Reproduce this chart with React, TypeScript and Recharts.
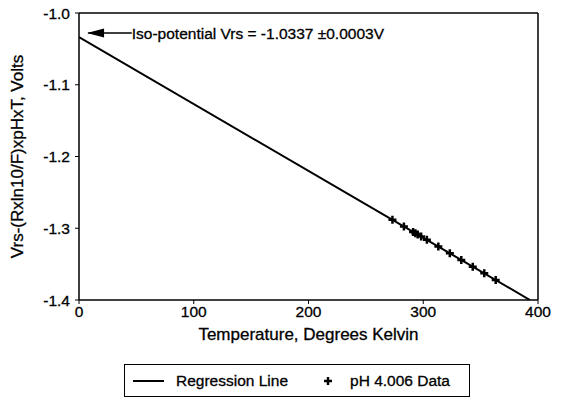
import { ComposedChart, Line, Scatter, XAxis, YAxis, ReferenceLine, ReferenceDot, Legend } from 'recharts'

// regression line end points (Kelvin, volts)
const lineT = [0, 393]
const lineV = [-1.0337, -1.4]

// pH 4.006 measurements
const dataT = [273.15, 283.15, 291.15, 293.15, 295.15, 298.15, 303.15, 313.15, 323.15, 333.15, 343.15, 353.15, 363.15]
const dataV = [-1.2883, -1.2976, -1.3051, -1.3069, -1.3088, -1.3116, -1.3162, -1.3256, -1.3349, -1.3442, -1.3535, -1.3628, -1.3722]

const xTicks = [0, 100, 200, 300, 400]
const yTicks = [-1.4, -1.3, -1.2, -1.1, -1.0]

const FONT = '"Liberation Sans", Arial, sans-serif'

const regression = lineT.map((t, i) => ({ t, v: lineV[i] }))
const points = dataT.map((t, i) => ({ t, v: dataV[i] }))

function Plus(props: any) {
  const { cx, cy } = props
  if (cx == null || cy == null) return null
  return <path d={`M${cx - 4},${cy}H${cx + 4}M${cx},${cy - 4}V${cy + 4}`} stroke="#000" strokeWidth={2.5} />
}

function ArrowHead(props: any) {
  const { cx, cy } = props
  if (cx == null || cy == null) return null
  return <path d={`M${cx},${cy}L${cx + 17},${cy - 4.5}L${cx + 17},${cy + 4.5}Z`} fill="#000" />
}

function LegendBox() {
  return (
    <div style={{
      border: '1.5px solid #000', height: 33, width: 346, boxSizing: 'border-box',
      display: 'flex', alignItems: 'center', fontFamily: FONT, fontSize: 15.5, color: '#000',
      WebkitTextStroke: '0.3px #000',
    }}>
      <svg width={40} height={10} style={{ marginLeft: 8 }}>
        <line x1={0} y1={5} x2={31} y2={5} stroke="#000" strokeWidth={2} />
      </svg>
      <span style={{ marginLeft: 3 }}>Regression Line</span>
      <svg width={16} height={12} style={{ marginLeft: 32 }}>
        <path d="M4,6H12M8,2V10" stroke="#000" strokeWidth={2.5} />
      </svg>
      <span style={{ marginLeft: 14 }}>pH 4.006 Data</span>
    </div>
  )
}

function YLabel(props: any) {
  const { viewBox } = props
  const cy = viewBox.y + viewBox.height / 2
  return (
    <text x={17} y={cy} transform={`rotate(-90, 17, ${cy})`} textAnchor="middle" dominantBaseline="central"
      fontFamily={FONT} fontSize={17} fill="#000" stroke="#000" strokeWidth={0.3}>
      Vrs-(Rxln10/F)xpHxT, Volts
    </text>
  )
}

function XLabel(props: any) {
  const { viewBox } = props
  return (
    <text x={viewBox.x + viewBox.width / 2} y={334} textAnchor="middle" dominantBaseline="central"
      fontFamily={FONT} fontSize={17} fill="#000" stroke="#000" strokeWidth={0.3}>
      Temperature, Degrees Kelvin
    </text>
  )
}

export default function App() {
  const tick = { fill: '#000', fontSize: 15.5, fontFamily: FONT, stroke: '#000', strokeWidth: 0.3 }
  return (
    <div style={{ position: 'absolute', left: 0, top: 0, background: '#fff' }}>
      <ComposedChart width={562} height={401} margin={{ top: 13, right: 24, left: 0, bottom: 28 }}>
        <XAxis dataKey="t" type="number" domain={[0, 400]} ticks={xTicks} allowDataOverflow
          axisLine={{ stroke: '#000', strokeWidth: 1.5 }} tickLine={{ stroke: '#000' }} tickSize={4}
          tick={tick} height={40} label={<XLabel />} />
        <YAxis dataKey="v" type="number" domain={[-1.4, -1.0]} ticks={yTicks} allowDataOverflow
          tickFormatter={(v: number) => v.toFixed(1)}
          axisLine={{ stroke: '#000', strokeWidth: 1.5 }} tickLine={{ stroke: '#000' }} tickSize={4}
          tick={{ ...tick, dx: -3 }} width={79} label={<YLabel />} />
        <ReferenceLine y={-1.0} stroke="#000" strokeWidth={1.5} />
        <ReferenceLine x={400} stroke="#000" strokeWidth={1.5} />
        <Line data={regression} dataKey="v" stroke="#000" strokeWidth={2} dot={false} isAnimationActive={false}
          legendType="line" name="Regression Line" />
        <Scatter data={points} dataKey="v" shape={<Plus />} isAnimationActive={false} name="pH 4.006 Data" />
        <ReferenceLine segment={[{ x: 8, y: -1.028 }, { x: 46, y: -1.028 }]} stroke="#000" strokeWidth={1.5}
          label={{ value: 'Iso-potential Vrs = -1.0337 \u00b10.0003V', position: 'right', fill: '#000', stroke: '#000', strokeWidth: 0.3, fontSize: 15.5, fontFamily: FONT, offset: 0 }} />
        <ReferenceDot x={7} y={-1.028} shape={<ArrowHead />} />
        <Legend verticalAlign="bottom" content={<LegendBox />}
          wrapperStyle={{ left: 124, top: 364, width: 346, height: 33 }} />
      </ComposedChart>
    </div>
  )
}
